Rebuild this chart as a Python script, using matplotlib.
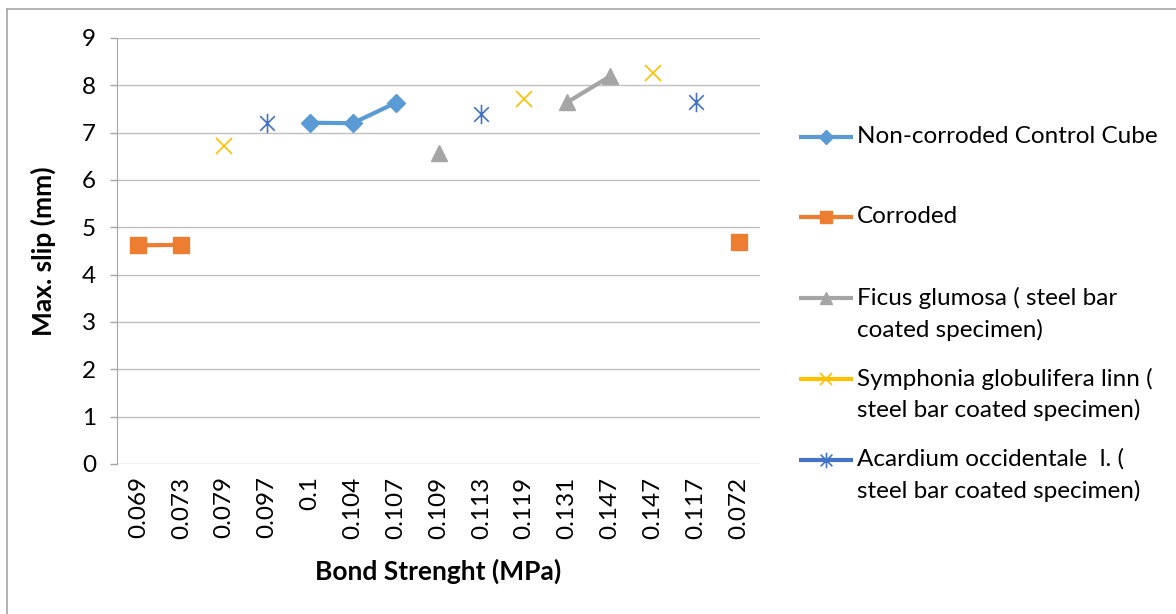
import numpy as np
import matplotlib
matplotlib.use("Agg")
import matplotlib.pyplot as plt
from matplotlib.lines import Line2D
from matplotlib.path import Path

plt.rcParams['font.family'] = ['Lato', 'DejaVu Sans']

categories = ["0.069", "0.073", "0.079", "0.097", "0.1", "0.104", "0.107", "0.109",
              "0.113", "0.119", "0.131", "0.147", "0.147", "0.117", "0.072"]
nan = np.nan
non_corroded = [nan, nan, nan, nan, 7.21, 7.20, 7.63, nan, nan, nan, nan, nan, nan, nan, nan]
corroded = [4.62, 4.63, nan, nan, nan, nan, nan, nan, nan, nan, nan, nan, nan, nan, 4.70]
ficus = [nan, nan, nan, nan, nan, nan, nan, 6.56, nan, nan, 7.64, 8.19, nan, nan, nan]
symphonia = [nan, nan, 6.71, nan, nan, nan, nan, nan, nan, 7.71, nan, nan, 8.26, nan, nan]
acardium = [nan, nan, nan, 7.21, nan, nan, nan, nan, 7.39, nan, nan, nan, nan, 7.64, nan]

labels = ["Non-corroded Control Cube", "Corroded",
          "Ficus glumosa ( steel bar\ncoated specimen)",
          "Symphonia globulifera linn (\nsteel bar coated specimen)",
          "Acardium occidentale  l. (\nsteel bar coated specimen)"]

# Excel-like star marker: X plus vertical line
star = Path([(0, -1), (0, 1), (-0.75, -0.75), (0.75, 0.75), (-0.75, 0.75), (0.75, -0.75)],
            [Path.MOVETO, Path.LINETO, Path.MOVETO, Path.LINETO, Path.MOVETO, Path.LINETO])

styles = [
    dict(color="#5B9BD5", marker="D", ms=9, mfc="#5B9BD5", mec="#5B9BD5", mew=1),
    dict(color="#ED7D31", marker="s", ms=11, mfc="#ED7D31", mec="#ED7D31", mew=1),
    dict(color="#A5A5A5", marker="^", ms=11, mfc="#A5A5A5", mec="#A5A5A5", mew=1),
    dict(color="#FFC000", marker="x", ms=11, mfc="#FFC000", mec="#FFC000", mew=1.2),
    dict(color="#4472C4", marker=star, ms=14, mfc="none", mec="#4472C4", mew=1.2),
]
series = [non_corroded, corroded, ficus, symphonia, acardium]

W, H = 1176, 614
fig = plt.figure(figsize=(W / 100, H / 100), dpi=100)
ax = fig.add_axes([117 / W, 1 - 464 / H, (760 - 117) / W, (464 - 38) / H])

x = np.arange(len(categories))
for vals, st in zip(series, styles):
    ax.plot(x, vals, lw=3, solid_capstyle="butt", **st)

ax.set_xlim(-0.5, len(categories) - 0.5)
ax.set_ylim(0, 9)
ax.set_yticks(range(0, 10))
ax.set_xticks(x)
ax.set_xticklabels(categories, rotation=90, fontsize=17.5)
ax.tick_params(axis="y", labelsize=17.5, length=5, width=1, color="#A6A6A6", pad=10, direction="out")
ax.tick_params(axis="x", length=0, pad=9)
ax.grid(axis="y", color="#BFBFBF", lw=1)
ax.set_axisbelow(True)
for s in ["top", "right", "bottom"]:
    ax.spines[s].set_visible(False)
ax.spines["left"].set_color("#A6A6A6")
ax.set_ylabel("Max. slip (mm)", fontsize=19, fontweight="bold", labelpad=19)
ax.set_xlabel("Bond Strenght (MPa)", fontsize=19, fontweight="bold", labelpad=14)

# manual legend (Excel style, handle aligned with first line)
rows_y = [136.7, 216.7, 298.3, 378.5, 459.5]
for lab, st, yy in zip(labels, styles, rows_y):
    fy = 1 - yy / H
    fig.add_artist(Line2D([799 / W, 853 / W], [fy, fy], transform=fig.transFigure,
                          color=st["color"], lw=3, solid_capstyle="butt"))
    fig.add_artist(Line2D([826 / W], [fy], transform=fig.transFigure, linestyle="none",
                          marker=st["marker"], ms=st["ms"] * 0.8, mfc=st["mfc"],
                          mec=st["mec"], mew=st["mew"]))
    fig.text(857 / W, 1 - (yy - 11) / H, lab, fontsize=17.5, va="top", ha="left",
             linespacing=1.52)

# chart border
fig.add_artist(Line2D([7 / W, 1], [1 - 9 / H, 1 - 9 / H], transform=fig.transFigure, color="#A6A6A6", lw=1.2))
fig.add_artist(Line2D([7 / W, 7 / W], [0, 1 - 9 / H], transform=fig.transFigure, color="#A6A6A6", lw=1.2))

fig.savefig("out.png", dpi=100)
